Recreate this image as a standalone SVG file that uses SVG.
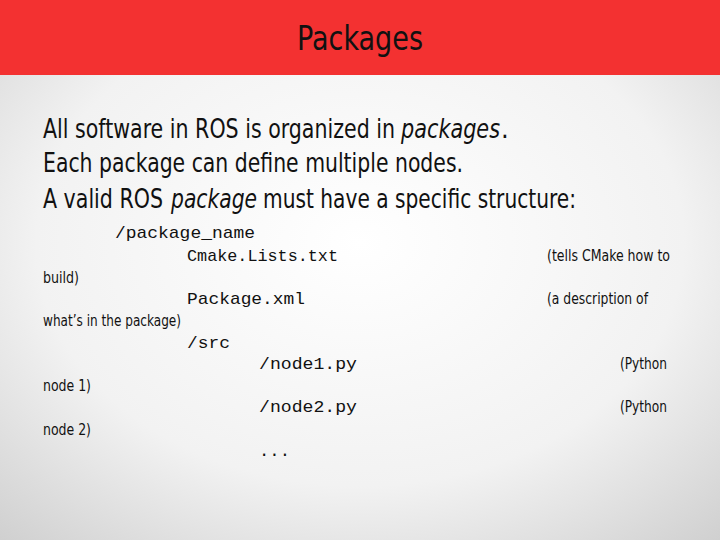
<svg xmlns="http://www.w3.org/2000/svg" width="720" height="540" viewBox="0 0 720 540">
<defs>
<radialGradient id="bg" cx="50%" cy="45%" r="75%">
<stop offset="0" stop-color="#ffffff"/><stop offset="0.6" stop-color="#f2f2f2"/><stop offset="1" stop-color="#cfcfcf"/>
</radialGradient>
<style>
.h{font-family:"DejaVu Sans Condensed","Liberation Sans Narrow","Liberation Sans",sans-serif;fill:#111}
.b{font-size:27px}
.i{font-style:italic}
.s{font-size:16px}
.m{font-family:"Liberation Mono",monospace;font-size:17px;fill:#111}
</style>
</defs>
<rect width="720" height="540" fill="url(#bg)"/>
<rect width="720" height="75" fill="#f33131"/>
<text class="h" x="360" y="50" text-anchor="middle" font-size="34" textLength="126" lengthAdjust="spacingAndGlyphs">Packages</text>
<text class="h b" x="43" y="138" textLength="352" lengthAdjust="spacingAndGlyphs">All software in ROS is organized in</text>
<text class="h b i" x="401" y="138" textLength="99" lengthAdjust="spacingAndGlyphs">packages</text>
<text class="h b" x="501" y="138">.</text>
<text class="h b" x="43" y="172" textLength="420" lengthAdjust="spacingAndGlyphs">Each package can define multiple nodes.</text>
<text class="h b" x="43" y="208" textLength="120" lengthAdjust="spacingAndGlyphs">A valid ROS</text>
<text class="h b i" x="171" y="208" textLength="86" lengthAdjust="spacingAndGlyphs">package</text>
<text class="h b" x="263" y="208" textLength="313" lengthAdjust="spacingAndGlyphs">must have a specific structure:</text>
<text class="m" x="115" y="238" textLength="140" lengthAdjust="spacingAndGlyphs">/package_name</text>
<text class="m" x="187" y="261" textLength="151" lengthAdjust="spacingAndGlyphs">Cmake.Lists.txt</text>
<text class="h s" x="547" y="261" textLength="123" lengthAdjust="spacingAndGlyphs">(tells CMake how to</text>
<text class="h s" x="43" y="283" textLength="36" lengthAdjust="spacingAndGlyphs">build)</text>
<text class="m" x="187" y="304" textLength="118" lengthAdjust="spacingAndGlyphs">Package.xml</text>
<text class="h s" x="547" y="304" textLength="101" lengthAdjust="spacingAndGlyphs">(a description of</text>
<text class="h s" x="43" y="326" textLength="138" lengthAdjust="spacingAndGlyphs">what’s in the package)</text>
<text class="m" x="187" y="348" textLength="43" lengthAdjust="spacingAndGlyphs">/src</text>
<text class="m" x="259" y="369" textLength="98" lengthAdjust="spacingAndGlyphs">/node1.py</text>
<text class="h s" x="620" y="369" textLength="47" lengthAdjust="spacingAndGlyphs">(Python</text>
<text class="h s" x="43" y="391" textLength="48" lengthAdjust="spacingAndGlyphs">node 1)</text>
<text class="m" x="259" y="412" textLength="98" lengthAdjust="spacingAndGlyphs">/node2.py</text>
<text class="h s" x="620" y="412" textLength="47" lengthAdjust="spacingAndGlyphs">(Python</text>
<text class="h s" x="43" y="435" textLength="48" lengthAdjust="spacingAndGlyphs">node 2)</text>
<text class="m" x="259" y="456" textLength="31" lengthAdjust="spacingAndGlyphs">...</text>
</svg>
